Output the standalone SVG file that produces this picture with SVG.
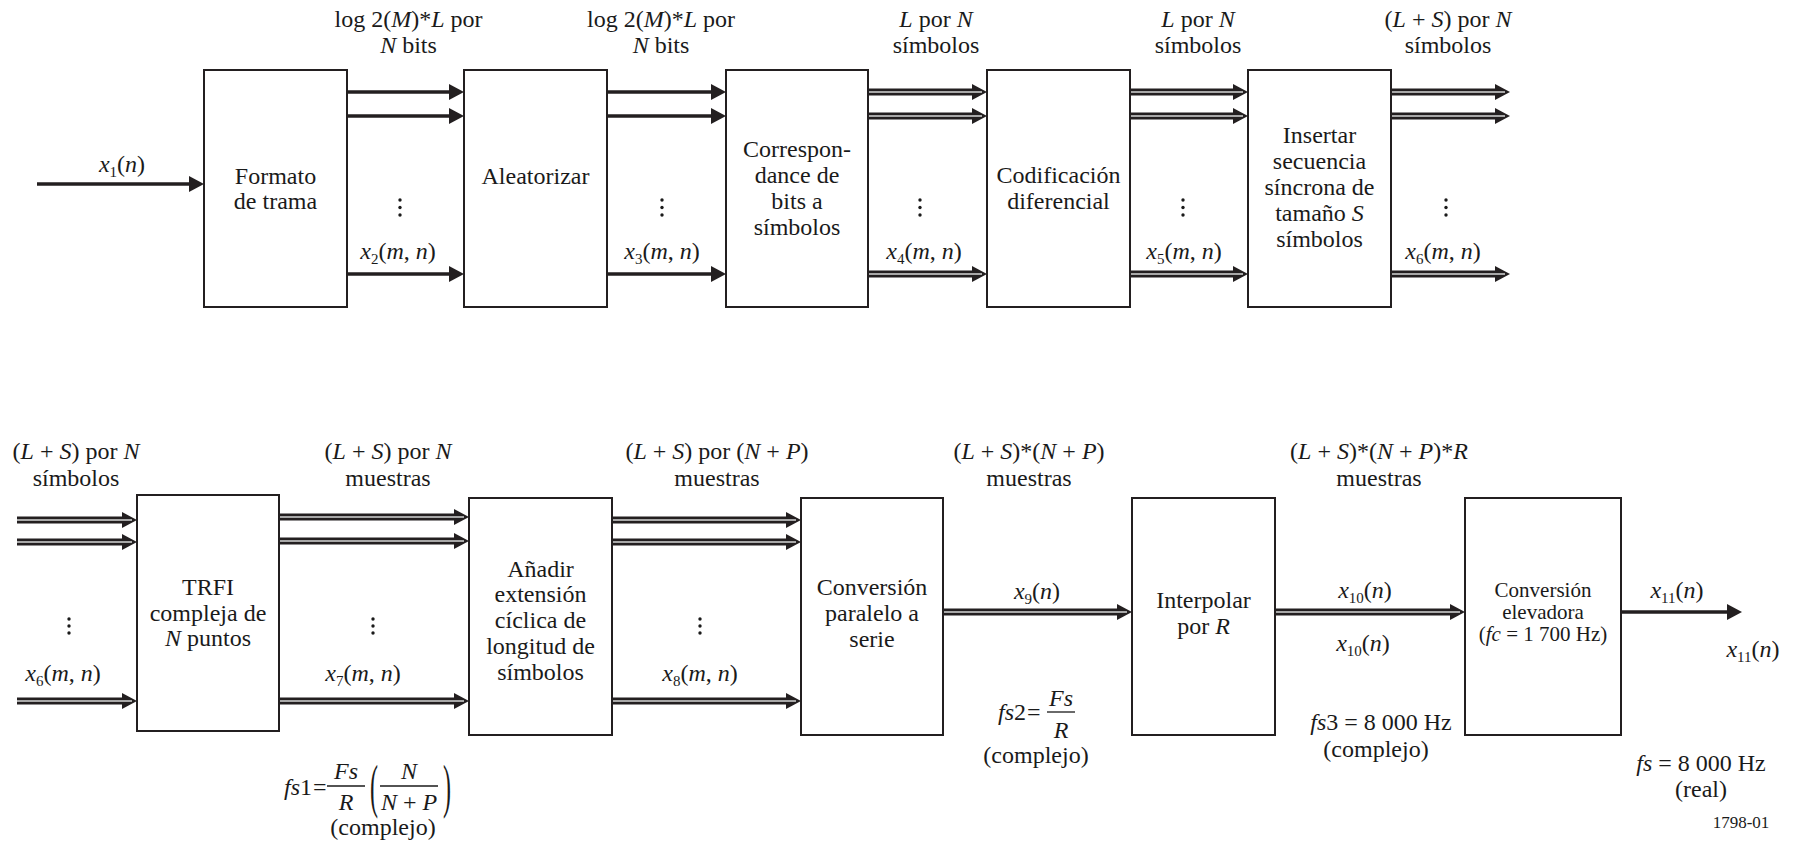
<svg xmlns="http://www.w3.org/2000/svg" width="1799" height="845" viewBox="0 0 1799 845">
<defs>
<style>
.t{font-family:"Liberation Serif","Times New Roman",serif;font-size:24px;fill:#1a1a1a;text-anchor:middle}
.st{text-anchor:start}
.sm{font-size:21px}
.i{font-style:italic}
.sb{font-size:15px}
.box{fill:#fff;stroke:#231f20;stroke-width:2}
.ln{fill:none;stroke:#231f20;stroke-width:3.5}
.tl{fill:none;stroke:#231f20;stroke-width:7}
.tg{fill:none;stroke:#a8a8a8;stroke-width:2}
.fr{stroke:#1a1a1a;stroke-width:1.3}
.dot{fill:#1a1a1a}
</style>
<marker id="ah" markerUnits="userSpaceOnUse" viewBox="0 0 15 16" markerWidth="15" markerHeight="16" refX="6" refY="8" orient="auto">
<path d="M0,0 L15,8 L0,16 Z" fill="#231f20"/>
</marker>
</defs>

<g id="connectors">
<path class="ln" marker-end="url(#ah)" d="M37,184 H195"/>
<path class="ln" marker-end="url(#ah)" d="M347,92 H455"/>
<path class="ln" marker-end="url(#ah)" d="M347,116 H455"/>
<path class="ln" marker-end="url(#ah)" d="M347,274 H455"/>
<path class="ln" marker-end="url(#ah)" d="M607,92 H717"/>
<path class="ln" marker-end="url(#ah)" d="M607,116 H717"/>
<path class="ln" marker-end="url(#ah)" d="M607,274 H717"/>
<path class="tl" marker-end="url(#ah)" d="M868,92 H978"/>
<path class="tl" marker-end="url(#ah)" d="M868,116 H978"/>
<path class="tl" marker-end="url(#ah)" d="M868,274 H978"/>
<path class="tg" d="M868,92 H982 M868,116 H982 M868,274 H982"/>
<path class="tl" marker-end="url(#ah)" d="M1130,92 H1239"/>
<path class="tl" marker-end="url(#ah)" d="M1130,116 H1239"/>
<path class="tl" marker-end="url(#ah)" d="M1130,274 H1239"/>
<path class="tg" d="M1130,92 H1243 M1130,116 H1243 M1130,274 H1243"/>
<path class="tl" marker-end="url(#ah)" d="M1391,92 H1501"/>
<path class="tl" marker-end="url(#ah)" d="M1391,116 H1501"/>
<path class="tl" marker-end="url(#ah)" d="M1391,274 H1501"/>
<path class="tg" d="M1391,92 H1505 M1391,116 H1505 M1391,274 H1505"/>
<path class="tl" marker-end="url(#ah)" d="M17,520 H128"/>
<path class="tl" marker-end="url(#ah)" d="M17,542 H128"/>
<path class="tl" marker-end="url(#ah)" d="M17,701 H128"/>
<path class="tg" d="M17,520 H132 M17,542 H132 M17,701 H132"/>
<path class="tl" marker-end="url(#ah)" d="M279,517 H460"/>
<path class="tl" marker-end="url(#ah)" d="M279,541 H460"/>
<path class="tl" marker-end="url(#ah)" d="M279,701 H460"/>
<path class="tg" d="M279,517 H464 M279,541 H464 M279,701 H464"/>
<path class="tl" marker-end="url(#ah)" d="M612,520 H792"/>
<path class="tl" marker-end="url(#ah)" d="M612,542 H792"/>
<path class="tl" marker-end="url(#ah)" d="M612,701 H792"/>
<path class="tg" d="M612,520 H796 M612,542 H796 M612,701 H796"/>
<path class="tl" marker-end="url(#ah)" d="M943,612 H1123"/>
<path class="tg" d="M943,612 H1127"/>
<path class="tl" marker-end="url(#ah)" d="M1275,612 H1456"/>
<path class="tg" d="M1275,612 H1460"/>
<path class="ln" marker-end="url(#ah)" d="M1621,612 H1733"/>
</g>

<g id="n-formato"><rect class="box" x="204" y="70" width="143" height="237"/>
<text class="t" x="275.5" y="184">Formato</text><text class="t" x="275.5" y="209">de trama</text></g>
<g id="n-aleatorizar"><rect class="box" x="464" y="70" width="143" height="237"/>
<text class="t" x="535.5" y="184">Aleatorizar</text></g>
<g id="n-correspondance"><rect class="box" x="726" y="70" width="142" height="237"/>
<text class="t" x="797" y="157">Correspon-</text><text class="t" x="797" y="183">dance de</text><text class="t" x="797" y="209">bits a</text><text class="t" x="797" y="235">símbolos</text></g>
<g id="n-codificacion"><rect class="box" x="987" y="70" width="143" height="237"/>
<text class="t" x="1058.5" y="183">Codificación</text><text class="t" x="1058.5" y="209">diferencial</text></g>
<g id="n-insertar"><rect class="box" x="1248" y="70" width="143" height="237"/>
<text class="t" x="1319.5" y="143">Insertar</text><text class="t" x="1319.5" y="169">secuencia</text><text class="t" x="1319.5" y="195">síncrona de</text><text class="t" x="1319.5" y="221">tamaño <tspan class="i">S</tspan></text><text class="t" x="1319.5" y="247">símbolos</text></g>

<g id="n-trfi"><rect class="box" x="137" y="495" width="142" height="236"/>
<text class="t" x="208" y="595">TRFI</text><text class="t" x="208" y="621">compleja de</text><text class="t" x="208" y="646"><tspan class="i">N</tspan> puntos</text></g>
<g id="n-anadir"><rect class="box" x="469" y="498" width="143" height="237"/>
<text class="t" x="540.5" y="577">Añadir</text><text class="t" x="540.5" y="602">extensión</text><text class="t" x="540.5" y="628">cíclica de</text><text class="t" x="540.5" y="654">longitud de</text><text class="t" x="540.5" y="680">símbolos</text></g>
<g id="n-conversion"><rect class="box" x="801" y="498" width="142" height="237"/>
<text class="t" x="872" y="595">Conversión</text><text class="t" x="872" y="621">paralelo a</text><text class="t" x="872" y="647">serie</text></g>
<g id="n-interpolar"><rect class="box" x="1132" y="498" width="143" height="237"/>
<text class="t" x="1203.5" y="608">Interpolar</text><text class="t" x="1203.5" y="634">por <tspan class="i">R</tspan></text></g>
<g id="n-elevadora"><rect class="box" x="1465" y="498" width="156" height="237"/>
<text class="t sm" x="1543" y="597">Conversión</text><text class="t sm" x="1543" y="619">elevadora</text><text class="t sm" x="1543" y="641">(<tspan class="i">fc</tspan> = 1 700 Hz)</text></g>

<g id="labels">
<text class="t" x="408.5" y="27">log 2(<tspan class="i">M</tspan>)*<tspan class="i">L</tspan> por</text>
<text class="t" x="408.5" y="53"><tspan class="i">N</tspan> bits</text>
<text class="t" x="661" y="27">log 2(<tspan class="i">M</tspan>)*<tspan class="i">L</tspan> por</text>
<text class="t" x="661" y="53"><tspan class="i">N</tspan> bits</text>
<text class="t" x="936" y="27"><tspan class="i">L</tspan> por <tspan class="i">N</tspan></text>
<text class="t" x="936" y="53">símbolos</text>
<text class="t" x="1198" y="27"><tspan class="i">L</tspan> por <tspan class="i">N</tspan></text>
<text class="t" x="1198" y="53">símbolos</text>
<text class="t" x="1448" y="27">(<tspan class="i">L</tspan> + <tspan class="i">S</tspan>) por <tspan class="i">N</tspan></text>
<text class="t" x="1448" y="53">símbolos</text>

<text class="t" x="76" y="459">(<tspan class="i">L</tspan> + <tspan class="i">S</tspan>) por <tspan class="i">N</tspan></text>
<text class="t" x="76" y="486">símbolos</text>
<text class="t" x="388" y="459">(<tspan class="i">L</tspan> + <tspan class="i">S</tspan>) por <tspan class="i">N</tspan></text>
<text class="t" x="388" y="486">muestras</text>
<text class="t" x="717" y="459">(<tspan class="i">L</tspan> + <tspan class="i">S</tspan>) por (<tspan class="i">N</tspan> + <tspan class="i">P</tspan>)</text>
<text class="t" x="717" y="486">muestras</text>
<text class="t" x="1029" y="459">(<tspan class="i">L</tspan> + <tspan class="i">S</tspan>)*(<tspan class="i">N</tspan> + <tspan class="i">P</tspan>)</text>
<text class="t" x="1029" y="486">muestras</text>
<text class="t" x="1379" y="459">(<tspan class="i">L</tspan> + <tspan class="i">S</tspan>)*(<tspan class="i">N</tspan> + <tspan class="i">P</tspan>)*<tspan class="i">R</tspan></text>
<text class="t" x="1379" y="486">muestras</text>

<text class="t" x="122" y="172"><tspan class="i">x</tspan><tspan class="sb" dy="5">1</tspan><tspan dy="-5">(</tspan><tspan class="i">n</tspan>)</text>
<text class="t" x="398" y="259"><tspan class="i">x</tspan><tspan class="sb" dy="5">2</tspan><tspan dy="-5">(</tspan><tspan class="i">m</tspan>, <tspan class="i">n</tspan>)</text>
<text class="t" x="662" y="259"><tspan class="i">x</tspan><tspan class="sb" dy="5">3</tspan><tspan dy="-5">(</tspan><tspan class="i">m</tspan>, <tspan class="i">n</tspan>)</text>
<text class="t" x="924" y="259"><tspan class="i">x</tspan><tspan class="sb" dy="5">4</tspan><tspan dy="-5">(</tspan><tspan class="i">m</tspan>, <tspan class="i">n</tspan>)</text>
<text class="t" x="1184" y="259"><tspan class="i">x</tspan><tspan class="sb" dy="5">5</tspan><tspan dy="-5">(</tspan><tspan class="i">m</tspan>, <tspan class="i">n</tspan>)</text>
<text class="t" x="1443" y="259"><tspan class="i">x</tspan><tspan class="sb" dy="5">6</tspan><tspan dy="-5">(</tspan><tspan class="i">m</tspan>, <tspan class="i">n</tspan>)</text>
<text class="t" x="63" y="681"><tspan class="i">x</tspan><tspan class="sb" dy="5">6</tspan><tspan dy="-5">(</tspan><tspan class="i">m</tspan>, <tspan class="i">n</tspan>)</text>
<text class="t" x="363" y="681"><tspan class="i">x</tspan><tspan class="sb" dy="5">7</tspan><tspan dy="-5">(</tspan><tspan class="i">m</tspan>, <tspan class="i">n</tspan>)</text>
<text class="t" x="700" y="681"><tspan class="i">x</tspan><tspan class="sb" dy="5">8</tspan><tspan dy="-5">(</tspan><tspan class="i">m</tspan>, <tspan class="i">n</tspan>)</text>
<text class="t" x="1037" y="599"><tspan class="i">x</tspan><tspan class="sb" dy="5">9</tspan><tspan dy="-5">(</tspan><tspan class="i">n</tspan>)</text>
<text class="t" x="1365" y="598"><tspan class="i">x</tspan><tspan class="sb" dy="5">10</tspan><tspan dy="-5">(</tspan><tspan class="i">n</tspan>)</text>
<text class="t" x="1363" y="651"><tspan class="i">x</tspan><tspan class="sb" dy="5">10</tspan><tspan dy="-5">(</tspan><tspan class="i">n</tspan>)</text>
<text class="t" x="1677" y="598"><tspan class="i">x</tspan><tspan class="sb" dy="5">11</tspan><tspan dy="-5">(</tspan><tspan class="i">n</tspan>)</text>
<text class="t" x="1753" y="657"><tspan class="i">x</tspan><tspan class="sb" dy="5">11</tspan><tspan dy="-5">(</tspan><tspan class="i">n</tspan>)</text>

<text class="t st" x="284" y="795"><tspan class="i">fs</tspan>1<tspan dx="1">=</tspan></text>
<line class="fr" x1="327" y1="786" x2="365" y2="786"/>
<text class="t" x="346" y="779"><tspan class="i">Fs</tspan></text>
<text class="t" x="346" y="810"><tspan class="i">R</tspan></text>
<text class="t" transform="translate(374,806) scale(1,2.5)" x="0" y="0">(</text>
<text class="t" transform="translate(447,806) scale(1,2.5)" x="0" y="0">)</text>
<line class="fr" x1="380" y1="786" x2="438" y2="786"/>
<text class="t" x="409" y="779"><tspan class="i">N</tspan></text>
<text class="t" x="409" y="810"><tspan class="i">N</tspan> + <tspan class="i">P</tspan></text>
<text class="t" x="383" y="835">(complejo)</text>

<text class="t st" x="998" y="720"><tspan class="i">fs</tspan>2<tspan dx="1">=</tspan></text>
<line class="fr" x1="1047" y1="712" x2="1075" y2="712"/>
<text class="t" x="1061" y="706"><tspan class="i">Fs</tspan></text>
<text class="t" x="1061" y="738"><tspan class="i">R</tspan></text>
<text class="t" x="1036" y="763">(complejo)</text>

<text class="t" x="1381" y="730"><tspan class="i">fs</tspan>3 = 8 000 Hz</text>
<text class="t" x="1376" y="757">(complejo)</text>
<text class="t" x="1701" y="771"><tspan class="i">fs</tspan> = 8 000 Hz</text>
<text class="t" x="1701" y="797">(real)</text>
<text class="t" style="font-size:17px" x="1741" y="828">1798-01</text>
</g>

<g id="dots">
<circle class="dot" cx="400" cy="200" r="1.7"/><circle class="dot" cx="400" cy="207.5" r="1.7"/><circle class="dot" cx="400" cy="215" r="1.7"/>
<circle class="dot" cx="662" cy="200" r="1.7"/><circle class="dot" cx="662" cy="207.5" r="1.7"/><circle class="dot" cx="662" cy="215" r="1.7"/>
<circle class="dot" cx="920" cy="200" r="1.7"/><circle class="dot" cx="920" cy="207.5" r="1.7"/><circle class="dot" cx="920" cy="215" r="1.7"/>
<circle class="dot" cx="1183" cy="200" r="1.7"/><circle class="dot" cx="1183" cy="207.5" r="1.7"/><circle class="dot" cx="1183" cy="215" r="1.7"/>
<circle class="dot" cx="1446" cy="200" r="1.7"/><circle class="dot" cx="1446" cy="207.5" r="1.7"/><circle class="dot" cx="1446" cy="215" r="1.7"/>
<circle class="dot" cx="69" cy="619" r="1.7"/><circle class="dot" cx="69" cy="626" r="1.7"/><circle class="dot" cx="69" cy="633" r="1.7"/>
<circle class="dot" cx="373" cy="619" r="1.7"/><circle class="dot" cx="373" cy="626" r="1.7"/><circle class="dot" cx="373" cy="633" r="1.7"/>
<circle class="dot" cx="700" cy="619" r="1.7"/><circle class="dot" cx="700" cy="626" r="1.7"/><circle class="dot" cx="700" cy="633" r="1.7"/>
</g>
</svg>
